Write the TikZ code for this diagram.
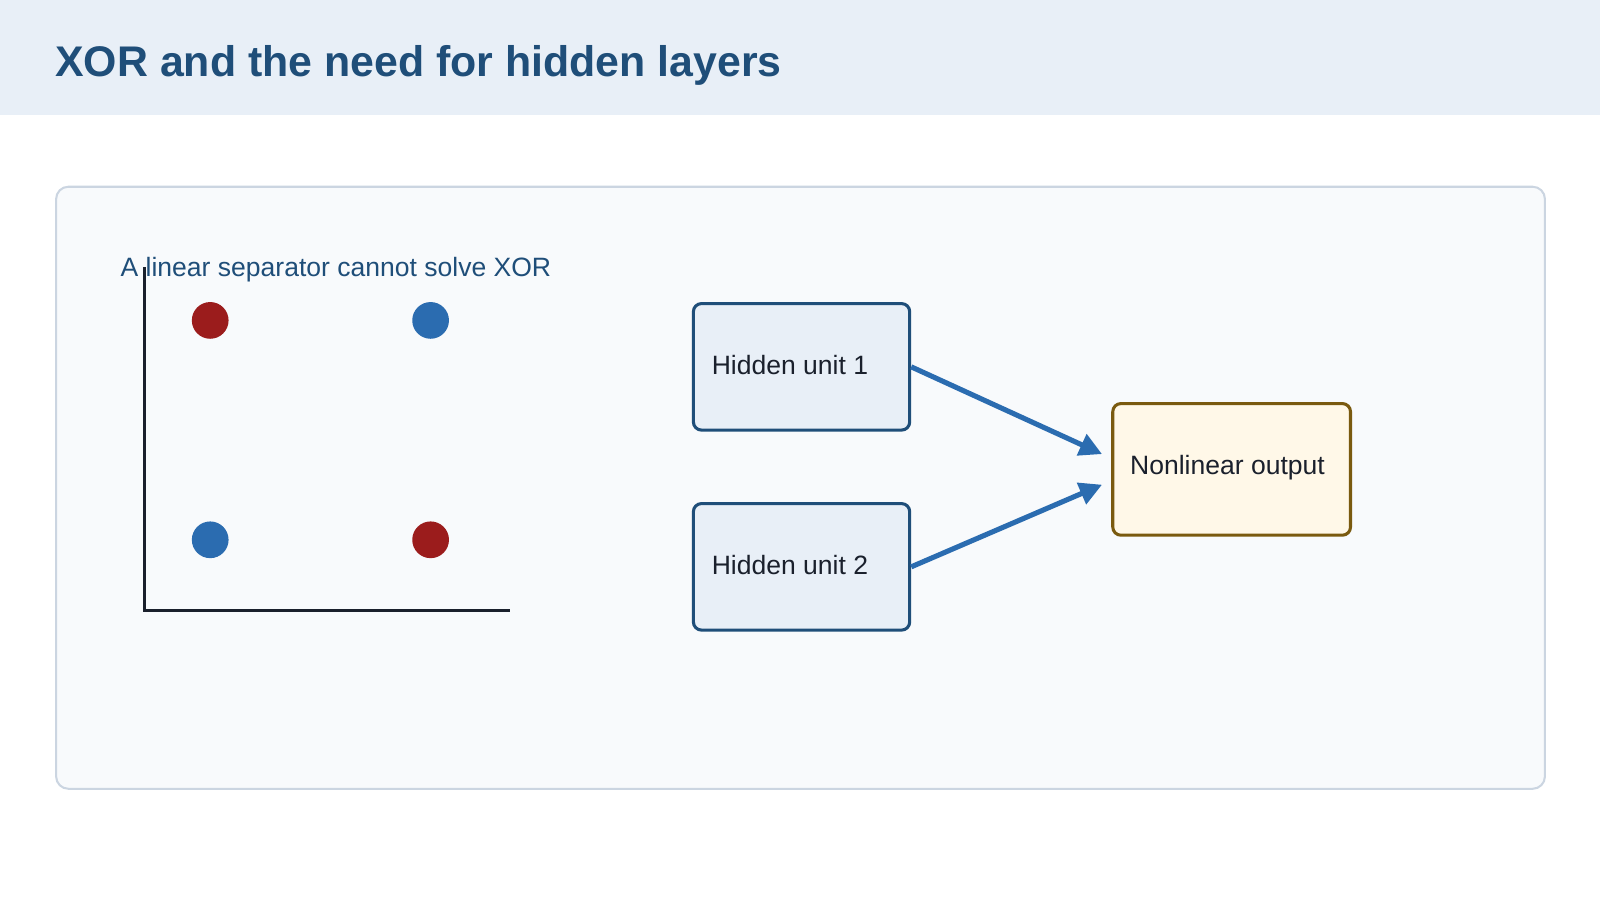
\documentclass[tikz,border=0pt]{standalone}
\usepackage{fontspec}
\setmainfont{Liberation Sans}
\usetikzlibrary{arrows.meta}
\definecolor{band}{HTML}{E8EFF7}
\definecolor{navy}{HTML}{1F4E79}
\definecolor{panel}{HTML}{F8FAFC}
\definecolor{pline}{HTML}{CBD5E1}
\definecolor{dred}{HTML}{9B1C1C}
\definecolor{dblue}{HTML}{2B6CB0}
\definecolor{ink}{HTML}{1A202C}
\definecolor{cream}{HTML}{FFF8E8}
\definecolor{brown}{HTML}{7A5A0F}
\begin{document}
\begin{tikzpicture}[x=1pt,y=-1pt,
 box/.style={draw=navy,line width=3pt,fill=band,rounded corners=8pt,minimum width=212pt,minimum height=124pt,anchor=north west,inner sep=0pt},
 lbl/.style={font=\fontsize{26}{30}\selectfont,text=ink},
 dot/.style={circle,minimum size=36pt,inner sep=0pt},
 conn/.style={draw=dblue,line width=5pt,-{Triangle[length=22pt,width=22pt]}}]
\useasboundingbox (0,0) rectangle (1568,882);
\fill[white] (0,0) rectangle (1568,882);
\fill[band] (0,0) rectangle (1568,113);
\node[anchor=base west,inner sep=0pt,text=navy,font=\fontsize{42}{48}\selectfont\bfseries] (title) at (54,75) {XOR and the need for hidden layers};
\draw[pline,fill=panel,line width=2pt,rounded corners=12pt] (55,183) rectangle (1514,773);
\draw[ink,line width=3pt] (142,262) -- (142,598) -- (500,598);
\node[anchor=base west,inner sep=0pt,text=navy,font=\fontsize{26}{30}\selectfont] (cap) at (118,271) {A linear separator cannot solve XOR};
\node[dot,fill=dred] (d1) at (206,314) {};
\node[dot,fill=dblue] (d2) at (422,314) {};
\node[dot,fill=dblue] (d3) at (206,529) {};
\node[dot,fill=dred] (d4) at (422,529) {};
\node[box] (h1) at (678,296) {};
\node[lbl,anchor=west] at (694,358) {Hidden unit 1};
\node[box] (h2) at (678,492) {};
\node[lbl,anchor=west] at (694,554) {Hidden unit 2};
\node[box,draw=brown,fill=cream,minimum width=233pt,minimum height=129pt] (out) at (1089,394) {};
\node[lbl,anchor=west] at (1104,458) {Nonlinear output};
\coordinate (a1) at (1080,445);
\coordinate (a2) at (1080,475);
\draw[conn] (h1.east) -- (a1);
\draw[conn] (h2.east) -- (a2);
\end{tikzpicture}
\end{document}
